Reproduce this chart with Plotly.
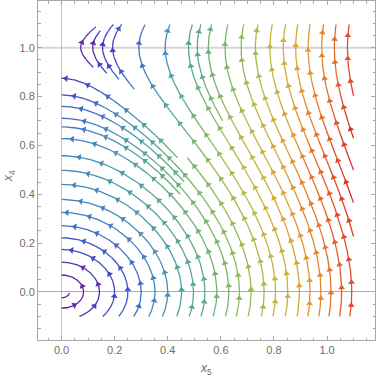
import numpy as np
import plotly.graph_objects as go

# system: x5' = -x4 (1 - x4),  x4' = A * x5   (stream plot of this field)
A = 0.67
X5_MIN, X5_MAX = 0.0, 1.1
X4_MIN, X4_MAX = -0.1, 1.1

# streamlines: x5 where each line crosses x4 = 0
# (virtual crossing for the lines that leave on the right), and the x4 span drawn
line_cross = [0.03, 0.083, 0.143, 0.200, 0.250, 0.300, 0.352, 0.400, 0.452, 0.497,
              0.540, 0.585, 0.612, 0.630, 0.652, 0.670, 0.690,
              0.709, 0.715, 0.722, 0.731, 0.714,
              0.763, 0.806, 0.852, 0.871, 0.896, 0.936, 0.977, 1.015, 1.055, 1.093,
              1.129, 1.166, 1.207, 1.246, 1.287]
line_from = [-1.0, -1.0, -0.1, -0.1, -0.1, -0.1, -0.1, -0.1, -0.1, -0.1,
             -0.1, -0.1, 0.40, -0.1, 0.45, -0.1, 0.55,
             0.92, 0.895, 0.87, 0.83, -0.1,
             -0.1, -0.1, -0.1, 0.70, -0.1, -0.1, -0.1, -0.1, -0.1, -0.1,
             -0.1, -0.1, -0.1, -0.1, -0.1]
line_to = [-0.004, 1.0, 1.0, 1.0, 1.0, 1.0, 1.0, 1.0, 1.0, 1.0,
           1.0, 1.0, 1.0, 1.0, 1.0, 1.0, 1.0,
           1.085, 1.07, 1.095, 1.095, 0.55,
           1.095, 1.095, 1.095, 1.095, 1.095, 1.095, 1.095, 1.095, 1.095, 1.095,
           1.095, 1.095, 1.095, 1.095, 1.095]

x_ticks = [0.0, 0.2, 0.4, 0.6, 0.8, 1.0]
y_ticks = [0.0, 0.2, 0.4, 0.6, 0.8, 1.0]

# Mathematica "Rainbow"-like gradient
rainbow = [(0.00, (120, 28, 134)), (0.10, (86, 40, 170)), (0.20, (62, 80, 200)),
           (0.30, (68, 128, 196)), (0.40, (80, 162, 162)), (0.50, (108, 178, 118)),
           (0.60, (150, 186, 86)), (0.70, (196, 184, 64)), (0.80, (226, 156, 52)),
           (0.90, (228, 102, 44)), (1.00, (214, 38, 36))]

XR = [-0.0887, 1.1805]
YR = [-0.1965, 1.191]
W, H = 379, 378
ML, MR, MT, MB = 38, 4, 1, 38
SX = (W - ML - MR) / (XR[1] - XR[0])
SY = (H - MT - MB) / (YR[1] - YR[0])


def g(y):
    return y * y / 2 - y ** 3 / 3


def speed(x, y):
    return np.hypot(y * (1 - y), A * x)


gx, gy = np.meshgrid(np.linspace(X5_MIN, X5_MAX, 200), np.linspace(X4_MIN, X4_MAX, 200))
SMAX = speed(gx, gy).max()


def colour(s):
    s = min(max(s, 0.0), 1.0)
    for (p0, c0), (p1, c1) in zip(rainbow[:-1], rainbow[1:]):
        if s <= p1:
            f = (s - p0) / (p1 - p0)
            c = [round(c0[k] + f * (c1[k] - c0[k])) for k in range(3)]
            return "rgb(%d,%d,%d)" % tuple(c)
    return "rgb(%d,%d,%d)" % rainbow[-1][1]


def root(h, lo, hi):
    # h - g(y) changes sign between lo and hi
    flo = h - g(lo)
    for _ in range(60):
        mid = (lo + hi) / 2
        if (h - g(mid) > 0) == (flo > 0):
            lo = mid
        else:
            hi = mid
    return (lo + hi) / 2


NB = 40
bins = [([], []) for _ in range(NB)]
ax_, ay_, ac_, aa_ = [], [], [], []

for i, (x0, y_from, y_to) in enumerate(zip(line_cross, line_from, line_to)):
    h = A * x0 * x0 / 2
    if h < 1 / 6:
        yb, yt = root(h, -1.0, 0.0), root(h, 0.0, 1.0)
    else:
        yb, yt = -10.0, 10.0
    a = max(y_from, yb, X4_MIN)
    b = min(y_to, yt, X4_MAX)
    t = np.linspace(0, 1, 700)
    y = a + (b - a) * (1 - np.cos(np.pi * t)) / 2
    x = np.sqrt(np.clip(2 * (h - g(y)) / A, 0, None))
    keep = x <= X5_MAX
    idx = np.flatnonzero(keep)
    if len(idx) < 2:
        continue
    runs = np.split(idx, np.flatnonzero(np.diff(idx) > 1) + 1)
    for run in runs:
        xs, ys = x[run], y[run]
        if len(xs) < 2:
            continue
        sm = speed((xs[1:] + xs[:-1]) / 2, (ys[1:] + ys[:-1]) / 2) / SMAX
        bi = np.minimum((sm * NB).astype(int), NB - 1)
        start = 0
        for j in range(1, len(bi) + 1):
            if j == len(bi) or bi[j] != bi[start]:
                bx, by = bins[bi[start]]
                bx.extend(list(xs[start:j + 1]) + [None])
                by.extend(list(ys[start:j + 1]) + [None])
                start = j
        # arrowheads every ~23 px along the line
        px, py = xs * SX, ys * SY
        arc = np.concatenate([[0], np.cumsum(np.hypot(np.diff(px), np.diff(py)))])
        step = 23.0
        pos = 8.0 + (i * 5.3) % step
        while pos < arc[-1] - 4:
            xa = np.interp(pos, arc, xs)
            ya = np.interp(pos, arc, ys)
            vx, vy = -ya * (1 - ya), A * xa
            ax_.append(xa)
            ay_.append(ya)
            ac_.append(colour(speed(xa, ya) / SMAX))
            aa_.append(np.degrees(np.arctan2(vx * SX, vy * SY)))
            pos += step

fig = go.Figure()
for k, (bx, by) in enumerate(bins):
    if not bx:
        continue
    fig.add_trace(go.Scatter(x=bx, y=by, mode="lines", hoverinfo="skip",
                             line=dict(color=colour((k + 0.5) / NB), width=1.3)))
fig.add_trace(go.Scatter(x=ax_, y=ay_, mode="markers", hoverinfo="skip",
                         marker=dict(symbol="triangle-up", size=6, color=ac_,
                                     angle=aa_, line=dict(width=0))))

fig.add_shape(type="line", xref="paper", x0=0, x1=1, y0=1.0, y1=1.0,
              line=dict(color="#d6d6d6", width=2), layer="below")

axis_common = dict(showgrid=False, showline=True, linecolor="#a8a8a8", linewidth=1,
                   mirror="allticks", ticks="inside", ticklen=4, tickcolor="#a8a8a8",
                   tickfont=dict(family="Liberation Sans, Arial", size=11, color="#6e6e6e"),
                   minor=dict(ticks="inside", ticklen=2.5, tickcolor="#a8a8a8", dtick=0.05),
                   zeroline=True, zerolinewidth=1)
fig.update_xaxes(range=XR, tickvals=x_ticks, ticktext=["%.1f" % v for v in x_ticks],
                 zerolinecolor="#c4c4c4", **axis_common)
fig.update_yaxes(range=YR, tickvals=y_ticks, ticktext=["%.1f" % v for v in y_ticks],
                 zerolinecolor="#aaaaaa", **axis_common)

PW, PH = W - ML - MR, H - MT - MB
fig.add_annotation(text="<i>x</i><sub>5</sub>", xref="paper", yref="paper",
                   x=(206 - ML) / PW, y=(H - MB - 369) / PH, xanchor="center",
                   yanchor="middle", showarrow=False,
                   font=dict(family="Liberation Sans, Arial", size=12, color="#6e6e6e"))
fig.add_annotation(text="<i>x</i><sub>4</sub>", xref="paper", yref="paper",
                   x=(9 - ML) / PW, y=(H - MB - 176) / PH, xanchor="center",
                   yanchor="middle", textangle=-90, showarrow=False,
                   font=dict(family="Liberation Sans, Arial", size=12, color="#6e6e6e"))

fig.update_layout(width=W, height=H, margin=dict(l=ML, r=MR, t=MT, b=MB),
                  plot_bgcolor="white", paper_bgcolor="white", showlegend=False)

fig.write_html("out.html", config={"displayModeBar": False},
               post_script="document.body.style.margin='0';")
